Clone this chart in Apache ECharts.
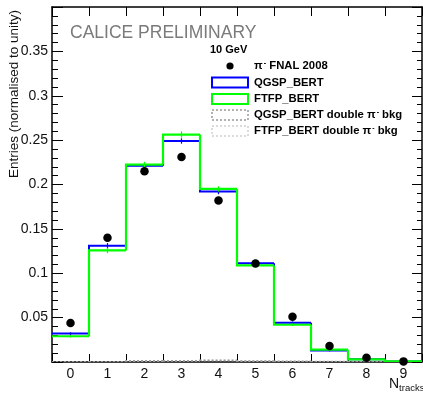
<!DOCTYPE html>
<html>
<head>
<meta charset="utf-8">
<script src="https://cdn.jsdelivr.net/npm/echarts@6/dist/echarts.min.js"></script>
<style>
  html, body { margin: 0; padding: 0; background: #fff; }
  #chart { width: 423px; height: 393px; }
</style>
</head>
<body>
<div id="chart"></div>
<script>
// Track multiplicity, 10 GeV pi- : data vs. two physics lists
const categories = ['0', '1', '2', '3', '4', '5', '6', '7', '8', '9'];
const fnalData   = [0.044, 0.140, 0.215, 0.231, 0.182, 0.111, 0.051, 0.018, 0.0048, 0.0007];
const qgspBert   = [0.032, 0.131, 0.221, 0.249, 0.192, 0.1114, 0.0442, 0.013, 0.003, 0.0006];
const qgspErr    = [0.0015, 0.003, 0.003, 0.003, 0.003, 0.002, 0.0015, 0.001, 0.0005, 0.0002];
const ftfpBert   = [0.029, 0.1257, 0.2225, 0.2563, 0.195, 0.1088, 0.042, 0.0139, 0.003, 0.0008];
const ftfpErr    = [0.0015, 0.003, 0.003, 0.0035, 0.003, 0.002, 0.0015, 0.001, 0.0005, 0.0002];
const qgspDouble = [0.0003, 0.0004, 0.0015, 0.0015, 0.002, 0.0012, 0.0008, 0.0005, 0.0002, 0.0001];
const ftfpDouble = [0.0002, 0.0003, 0.0012, 0.0013, 0.0017, 0.0010, 0.0006, 0.0004, 0.0002, 0.0001];
const yTicks = { min: 0, max: 0.4, step: 0.05 };

const FONT = "'Liberation Sans', Arial, Helvetica, sans-serif";
const LEG_FS = 11.3;

function histData(values, errors) {
  return values.map((v, i) => [i, v, i > 0 ? values[i - 1] : v, errors ? errors[i] : 0]);
}

// step-histogram renderer: one horizontal segment per bin plus the riser on its left edge
function histRenderer(color, width, dash) {
  return function (params, api) {
    const i = api.value(0);
    const v = api.value(1);
    const prev = api.value(2);
    const err = api.value(3);
    const c = api.coord([i, v]);
    const p = api.coord([i, prev]);
    const w = api.size([1, 0])[0];
    const left = c[0] - w / 2, right = c[0] + w / 2;
    const pts = i > 0 ? [[left, p[1]], [left, c[1]], [right, c[1]]] : [[left, c[1]], [right, c[1]]];
    const style = { stroke: color, lineWidth: width, fill: null, lineDash: dash || null };
    const children = [{ type: 'polyline', shape: { points: pts }, style: style }];
    if (err > 0) {
      const lo = api.coord([i, v - err]), hi = api.coord([i, v + err]);
      children.push({ type: 'line', shape: { x1: c[0], y1: lo[1], x2: c[0], y2: hi[1] },
        style: { stroke: color, lineWidth: 1.2 } });
    }
    return { type: 'group', children: children };
  };
}

const chart = echarts.init(document.getElementById('chart'), null, { renderer: 'canvas' });

const axisLine = { show: true, onZero: false, lineStyle: { color: '#000', width: 1.5 } };

const option = {
  backgroundColor: '#fff',
  animation: false,
  grid: { left: 52, right: 1, top: 7, bottom: 31, containLabel: false },
  xAxis: [
    {
      type: 'category', data: categories, boundaryGap: true, position: 'bottom',
      axisLine: axisLine,
      axisTick: { show: true, inside: true, length: 8, interval: 0, lineStyle: { color: '#000', width: 1 } },
      axisLabel: { show: true, interval: 0, margin: 5, color: '#111', fontSize: 14, fontFamily: FONT },
      splitLine: { show: false }
    },
    {
      type: 'category', data: categories, boundaryGap: true, position: 'top',
      axisLine: axisLine,
      axisTick: { show: true, inside: true, length: 9, interval: 0, lineStyle: { color: '#000', width: 1 } },
      axisLabel: { show: false },
      splitLine: { show: false }
    }
  ],
  yAxis: [
    {
      type: 'value', min: yTicks.min, max: yTicks.max, interval: yTicks.step, position: 'left',
      axisLine: axisLine,
      axisTick: { show: true, inside: true, length: 11, lineStyle: { color: '#000', width: 1 } },
      minorTick: { show: true, splitNumber: 5, length: 6, lineStyle: { color: '#000', width: 1 } },
      axisLabel: {
        show: true, margin: 4, color: '#111', fontSize: 14, fontFamily: FONT,
        formatter: v => (v <= 0 || v > 0.39) ? '' : String(parseFloat(v.toFixed(2)))
      },
      splitLine: { show: false }, minorSplitLine: { show: false }
    },
    {
      type: 'value', min: yTicks.min, max: yTicks.max, interval: yTicks.step, position: 'right',
      axisLine: axisLine,
      axisTick: { show: true, inside: true, length: 10, lineStyle: { color: '#000', width: 1 } },
      minorTick: { show: true, splitNumber: 5, length: 5, lineStyle: { color: '#000', width: 1 } },
      axisLabel: { show: false },
      splitLine: { show: false }, minorSplitLine: { show: false }
    }
  ],
  series: [
    {
      name: 'FTFP_BERT double \u03c0\u207b bkg', type: 'custom', clip: true,
      renderItem: histRenderer('#d0d0d0', 1.5, [2, 2]),
      data: histData(ftfpDouble, null), z: 2
    },
    {
      name: 'QGSP_BERT double \u03c0\u207b bkg', type: 'custom', clip: true,
      renderItem: histRenderer('#999999', 1.5, [2, 2]),
      data: histData(qgspDouble, null), z: 2
    },
    {
      name: 'QGSP_BERT', type: 'custom', clip: true,
      renderItem: histRenderer('#0000ff', 2),
      data: histData(qgspBert, qgspErr), z: 3
    },
    {
      name: 'FTFP_BERT', type: 'custom', clip: true,
      renderItem: histRenderer('#00ff00', 2.2),
      data: histData(ftfpBert, ftfpErr), z: 4
    },
    {
      name: '\u03c0\u207b FNAL 2008', type: 'scatter',
      data: fnalData, symbol: 'circle', symbolSize: 8.5,
      itemStyle: { color: '#000', opacity: 1 }, z: 5
    }
  ],
  graphic: [
    { type: 'text', left: 70, top: 24, z: 10,
      style: { text: 'CALICE PRELIMINARY', fontSize: 17.5, fontFamily: FONT, fill: '#7a7a7a' } },
    { type: 'text', x: 14, y: 10, rotation: Math.PI / 2, z: 10,
      style: { text: 'Entries (normalised to unity)', fontSize: 13.5, fontFamily: FONT, fill: '#111',
        align: 'right', verticalAlign: 'middle' } },
    { type: 'text', x: 389, y: 384, z: 10,
      style: { text: '{n|N}{s|tracks}', fontFamily: FONT, fill: '#111', verticalAlign: 'middle',
        rich: { n: { fontSize: 14, fontFamily: FONT, fill: '#111' },
                s: { fontSize: 9.5, fontFamily: FONT, fill: '#111', padding: [9, 0, 0, 0] } } } },
    // legend block
    { type: 'text', x: 210, y: 50, z: 10,
      style: { text: '10 GeV', fontSize: 11, fontWeight: 'bold', fontFamily: FONT, fill: '#000', verticalAlign: 'middle' } },
    { type: 'circle', shape: { cx: 230, cy: 66, r: 3.6 }, style: { fill: '#000' }, z: 10 },
    { type: 'text', x: 254, y: 66, z: 10,
      style: { text: '{p|\u03c0}{m|-} {t|FNAL 2008}', verticalAlign: 'middle', fill: '#000',
        rich: { p: { fontSize: LEG_FS, fontWeight: 'bold', fontFamily: FONT },
                m: { fontSize: 7, fontWeight: 'bold', fontFamily: FONT, padding: [0, 0, 6, 1] },
                t: { fontSize: LEG_FS, fontWeight: 'bold', fontFamily: FONT } } } },
    { type: 'rect', shape: { x: 212, y: 77.5, width: 36, height: 10 },
      style: { fill: '#fff', stroke: '#0000ff', lineWidth: 2 }, z: 10 },
    { type: 'text', x: 254, y: 82.5, z: 10,
      style: { text: 'QGSP_BERT', fontSize: LEG_FS, fontWeight: 'bold', fontFamily: FONT, fill: '#000', verticalAlign: 'middle' } },
    { type: 'rect', shape: { x: 212, y: 94, width: 36, height: 10 },
      style: { fill: '#fff', stroke: '#00ff00', lineWidth: 2 }, z: 10 },
    { type: 'text', x: 254, y: 99, z: 10,
      style: { text: 'FTFP_BERT', fontSize: LEG_FS, fontWeight: 'bold', fontFamily: FONT, fill: '#000', verticalAlign: 'middle' } },
    { type: 'rect', shape: { x: 212, y: 110, width: 36, height: 10 },
      style: { fill: '#fff', stroke: '#999999', lineWidth: 1.5, lineDash: [2, 2] }, z: 10 },
    { type: 'text', x: 254, y: 115, z: 10,
      style: { text: '{t|QGSP_BERT double }{p|\u03c0}{m|-}{t| bkg}', verticalAlign: 'middle', fill: '#000',
        rich: { t: { fontSize: LEG_FS, fontWeight: 'bold', fontFamily: FONT },
                p: { fontSize: LEG_FS, fontWeight: 'bold', fontFamily: FONT },
                m: { fontSize: 7, fontWeight: 'bold', fontFamily: FONT, padding: [0, 0, 6, 1] } } } },
    { type: 'rect', shape: { x: 212, y: 126, width: 36, height: 10 },
      style: { fill: '#fff', stroke: '#d0d0d0', lineWidth: 1.5, lineDash: [2, 2] }, z: 10 },
    { type: 'text', x: 254, y: 131, z: 10,
      style: { text: '{t|FTFP_BERT double }{p|\u03c0}{m|-}{t| bkg}', verticalAlign: 'middle', fill: '#000',
        rich: { t: { fontSize: LEG_FS, fontWeight: 'bold', fontFamily: FONT },
                p: { fontSize: LEG_FS, fontWeight: 'bold', fontFamily: FONT },
                m: { fontSize: 7, fontWeight: 'bold', fontFamily: FONT, padding: [0, 0, 6, 1] } } } }
  ]
};

chart.setOption(option);
</script>
</body>
</html>
